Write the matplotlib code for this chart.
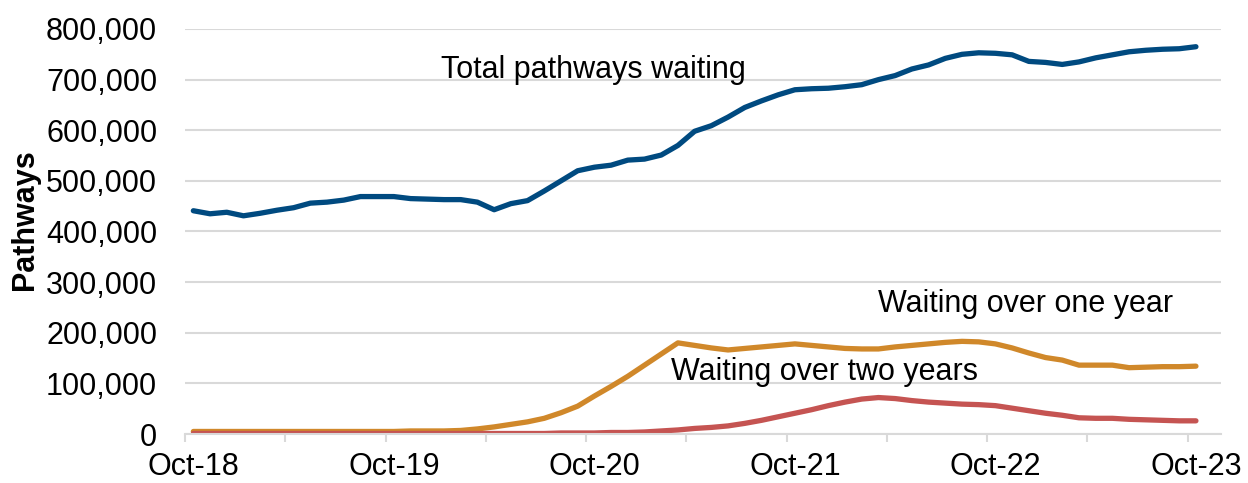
import numpy as np
import matplotlib.pyplot as plt
from matplotlib.ticker import FuncFormatter

plt.rcParams['font.family'] = ['Liberation Sans', 'DejaVu Sans']

# monthly values in thousands, Oct-18 to Oct-23
tick_labels = ["Oct-18", "Oct-19", "Oct-20", "Oct-21", "Oct-22", "Oct-23"]

total = [441, 435, 438, 431, 436, 442, 447, 456, 458, 462, 469, 469,
         469, 465, 464, 463, 463, 458, 443, 455, 461, 480, 500, 520,
         527, 531, 541, 543, 551, 570, 598, 609, 626, 645, 658, 670,
         680, 682, 683, 686, 690, 700, 708, 721, 729, 742, 750, 753,
         752, 749, 736, 734, 730, 735, 743, 749, 755, 758, 760, 761, 765]
over_one = [5, 5, 5, 5, 5, 5, 5, 5, 5, 5, 5, 5,
            5, 6, 6, 6, 7, 10, 14, 19, 24, 31, 42, 55,
            75, 94, 114, 136, 158, 180, 175, 170, 166, 169, 172, 175,
            178, 175, 172, 169, 168, 168, 172, 175, 178, 181, 183, 182,
            178, 170, 160, 151, 146, 136, 136, 136, 131, 132, 133, 133, 134]
over_two = [1, 1, 1, 1, 1, 1, 1, 1, 1, 1, 1, 1,
            1, 1, 1, 1, 1, 1, 1, 1, 1, 1, 2, 2,
            2, 3, 3, 4, 6, 8, 11, 13, 16, 21, 27, 34,
            41, 48, 56, 63, 69, 72, 70, 66, 63, 61, 59, 58,
            56, 51, 46, 41, 37, 32, 31, 31, 29, 28, 27, 26, 26]

total = np.array(total) * 1000
over_one = np.array(over_one) * 1000
over_two = np.array(over_two) * 1000
x = np.arange(len(total))

fig = plt.figure(figsize=(12.48, 4.83), dpi=100)
ax = fig.add_axes([185 / 1248, 1 - 434 / 483, (1221 - 185) / 1248, (434 - 29) / 483])

ax.plot(x, total, color="#004A80", lw=3.8, solid_capstyle="round")
ax.plot(x, over_one, color="#D0882A", lw=3.8, solid_capstyle="round")
ax.plot(x, over_two, color="#C55452", lw=3.8, solid_capstyle="round")

ax.text(14.8, 719000, "Total pathways waiting", fontsize=22, va="center", ha="left")
ax.text(41.0, 256000, "Waiting over one year", fontsize=22, va="center", ha="left")
ax.text(28.6, 122000, "Waiting over two years", fontsize=22, va="center", ha="left")

ax.set_xlim(-0.5, len(total) + 0.5)
ax.set_ylim(0, 800000)
ax.set_yticks(np.arange(0, 800001, 100000))
ax.yaxis.set_major_formatter(FuncFormatter(lambda v, p: f"{int(v):,}"))
ax.tick_params(axis="y", length=0, pad=20, labelsize=22)

ax.set_xticks(np.arange(0, len(total), 12))
ax.set_xticklabels(tick_labels)
ax.set_xticks(np.arange(-0.5, len(total), 6), minor=True)
ax.tick_params(axis="x", which="major", length=0, pad=13, labelsize=22)
ax.tick_params(axis="x", which="minor", length=6, width=1.5, color="#D9D9D9")

ax.grid(axis="y", color="#D9D9D9", lw=1.5)
ax.set_axisbelow(True)
for s in ["top", "right", "left"]:
    ax.spines[s].set_visible(False)
ax.spines["bottom"].set_color("#D9D9D9")
ax.spines["bottom"].set_linewidth(1.5)

fig.text(25 / 1248, 1 - 220 / 483, "Pathways", rotation=90, fontsize=22,
         fontweight="bold", ha="center", va="center")

fig.savefig("out.png", dpi=100)
